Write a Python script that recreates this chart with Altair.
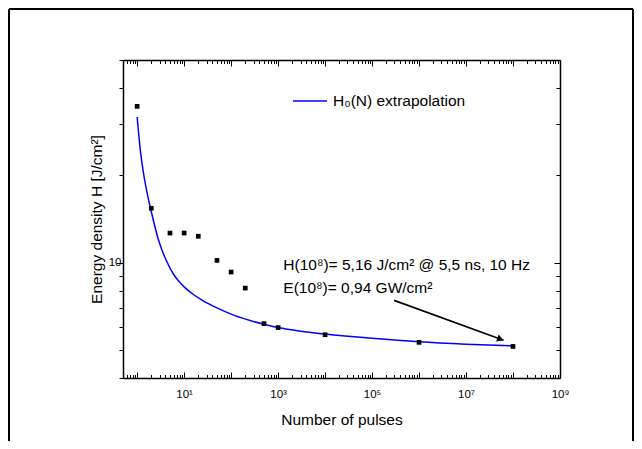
import json
import altair as alt
import pandas as pd

# measured data points (Number of pulses, energy density J/cm^2)
pulses = [1, 2, 5, 10, 20, 50, 100, 200, 500, 1000, 1e4, 1e6, 1e8]
energy = [34.6, 15.4, 12.65, 12.65, 12.33, 10.18, 9.28, 8.17, 6.16, 5.97, 5.64, 5.31, 5.14]

# extrapolation curve
curve_n = [1, 1.17, 1.37, 1.76, 2.0, 2.86, 3.5, 4.32, 6, 7.64, 10, 15, 24, 50, 113, 500,
           1000, 3000, 1e4, 1e5, 1e6, 1e7, 1e8]
curve_h = [31.8, 24.4, 20.3, 16.4, 15.0, 11.94, 10.88, 10.05, 9.10, 8.64, 8.25, 7.81, 7.43,
           6.98, 6.59, 6.13, 5.97, 5.80, 5.67, 5.48, 5.33, 5.23, 5.16]

legend_label = "H\u2080(N) extrapolation"
note_lines = ["H(10\u2078)= 5,16 J/cm\u00b2 @ 5,5 ns, 10 Hz", "E(10\u2078)= 0,94 GW/cm\u00b2"]

arrow_n = [2.95e5, 6.3e7]
arrow_h = [7.41, 5.40]
arrow_tip_n = [5.4e7]
arrow_tip_h = [5.45]

x_label_values = [10, 1e3, 1e5, 1e7, 1e9]
x_label_text = ["10\u00b9", "10\u00b3", "10\u2075", "10\u2077", "10\u2079"]
y_label_values = [10]
y_tick_values = [4, 5, 6, 7, 8, 9, 10, 20, 30, 40, 50]
x_tick_values = sorted(k * 10.0 ** e for e in range(-1, 9) for k in range(1, 10)
                       if 0.5 <= k * 10.0 ** e <= 1e9) + [1e9]

W, H = 437, 318
FONT = "Liberation Sans"
FS = 15.5

xs = alt.Scale(type="log", domain=[0.5, 1e9], nice=False)
ys = alt.Scale(type="log", domain=[4, 50], nice=False)

major_x = "abs(log(datum.value)/LN10 - round(log(datum.value)/LN10)) < 0.001"
major_y = "datum.value == 10"

common = dict(grid=False, domainColor="black", domainWidth=1.5, tickColor="black",
              tickWidth=1, labelColor="black", labelFont=FONT)

pts_df = pd.DataFrame({"N": pulses, "H": energy})
cur_df = pd.DataFrame({"N": curve_n, "H": curve_h, "series": [legend_label] * len(curve_n)})
arr_df = pd.DataFrame({"N": arrow_n, "H": arrow_h})
tip_df = pd.DataFrame({"N": arrow_tip_n, "H": arrow_tip_h})
one = pd.DataFrame({"a": [0]})

label_expr = json.dumps(x_label_text, ensure_ascii=False) + "[round(log(datum.value)/LN10/2 - 0.5)]"

ax_bottom = alt.Axis(orient="bottom", values=x_label_values, labelExpr=label_expr,
                     ticks=False, tickSize=0, labelPadding=10, labelFontSize=11.5,
                     labelFlush=False, labelOverlap=False, labelBound=False,
                     title="Number of pulses", titleFont=FONT, titleFontSize=FS,
                     titleFontWeight="normal", titleColor="black", titleX=W / 2, titleY=46.3,
                     titleBaseline="alphabetic", titleAlign="center", **common)
ax_left = alt.Axis(orient="left", values=y_label_values, format="d", ticks=False, tickSize=0,
                   labelPadding=2, labelFontSize=11.5, labelOverlap=False,
                   title="Energy density H [J/cm\u00b2]", titleFont=FONT, titleFontSize=FS,
                   titleFontWeight="normal", titleColor="black", titleX=-22, titleY=H / 2,
                   titleAngle=270, titleBaseline="alphabetic", titleAlign="center", **common)

ax_bottom_ticks = alt.Axis(orient="top", offset=-H, values=x_tick_values, labels=False,
                           domain=False, title=None,
                           tickSize={"condition": {"test": major_x, "value": 6}, "value": 3.5},
                           **common)
ax_left_ticks = alt.Axis(orient="left", values=y_tick_values, labels=False, domain=False,
                         title=None,
                         tickSize={"condition": {"test": major_y, "value": 7}, "value": 4},
                         **common)
ax_top_ticks = alt.Axis(orient="bottom", offset=-H, values=x_tick_values, labels=False,
                        domain=True, title=None,
                        tickSize={"condition": {"test": major_x, "value": 6}, "value": 3.5},
                        **common)
ax_right_ticks = alt.Axis(orient="left", offset=-W, values=y_tick_values, labels=False,
                          domain=True, title=None,
                          tickSize={"condition": {"test": major_y, "value": 6}, "value": 4},
                          **common)

curve = alt.Chart(cur_df).mark_line(strokeWidth=1.5, interpolate="monotone").encode(
    x=alt.X("N:Q", scale=xs, axis=ax_bottom_ticks),
    y=alt.Y("H:Q", scale=ys, axis=ax_left_ticks),
    color=alt.Color("series:N", scale=alt.Scale(domain=[legend_label], range=["#0000ff"]),
                    legend=alt.Legend(orient="none", legendX=169, legendY=23, title=None,
                                      symbolType="stroke", symbolSize=1156,
                                      symbolStrokeWidth=1.5, labelFontSize=FS, labelFont=FONT,
                                      labelColor="black", labelOffset=5, padding=0)),
)

points = alt.Chart(pts_df).mark_square(size=22, color="black", opacity=1).encode(
    x=alt.X("N:Q", scale=xs, axis=ax_bottom),
    y=alt.Y("H:Q", scale=ys, axis=ax_left),
)

arrow = alt.Chart(arr_df).mark_line(color="black", strokeWidth=1.6).encode(
    x=alt.X("N:Q", scale=xs, axis=ax_top_ticks),
    y=alt.Y("H:Q", scale=ys, axis=ax_right_ticks),
)

tip = alt.Chart(tip_df).mark_point(shape="triangle-right", filled=True, color="black",
                                   size=55, angle=20, opacity=1).encode(
    x=alt.X("N:Q", scale=xs, axis=None),
    y=alt.Y("H:Q", scale=ys, axis=None),
)

note = alt.Chart(one).mark_text(text=note_lines, align="left", baseline="alphabetic",
                                font=FONT, fontSize=FS, lineHeight=23.3, color="black").encode(
    x=alt.value(160.3), y=alt.value(210))

frame_top = alt.Chart(one).mark_rule(color="black", strokeWidth=2).encode(
    x=alt.value(-114), x2=alt.value(510), y=alt.value(-51))
frame_left = alt.Chart(one).mark_rule(color="black", strokeWidth=2).encode(
    x=alt.value(-114), y=alt.value(-51), y2=alt.value(381))
frame_right = alt.Chart(one).mark_rule(color="black", strokeWidth=2).encode(
    x=alt.value(510), y=alt.value(-51), y2=alt.value(381))

chart = alt.layer(curve, points, arrow, tip, note, frame_top, frame_left, frame_right).resolve_axis(
    x="independent", y="independent"
).properties(
    width=W, height=H,
    padding={"left": 115, "top": 52, "right": 74, "bottom": 63},
    autosize=alt.AutoSizeParams(type="none"),
    background="white",
).configure_view(stroke=None)

chart.save("out.html", embed_options={"renderer": "svg", "actions": False})
